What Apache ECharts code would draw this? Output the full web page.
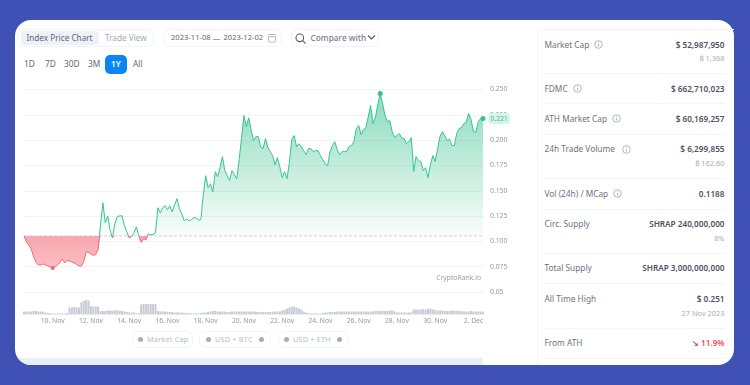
<!DOCTYPE html>
<html><head><meta charset="utf-8">
<script src="https://cdn.jsdelivr.net/npm/echarts@6/dist/echarts.min.js"></script>
<style>
html,body{margin:0;padding:0;width:750px;height:385px;overflow:hidden;background:#3f51b5;font-family:"Noto Sans",sans-serif}
#card{position:absolute;left:15px;top:19.5px;width:719px;height:345.5px;background:#fff;border-radius:16px;overflow:hidden}
#strip{position:absolute;left:0;top:338px;width:468px;height:8px;background:#e6f0fb}
#chart{position:absolute;left:0;top:0;width:750px;height:385px}
.ui{position:absolute;white-space:nowrap;line-height:1;transform:translateY(-50%)}
.box{position:absolute;border:1px solid #f3f4f7;border-radius:6px;box-sizing:border-box;background:#fff}
.lab{font-size:8.3px;color:#6d7380;left:544.5px}
.val{font-size:8.2px;font-weight:600;color:#4d5362;right:25.5px}
.sub{font-size:7.4px;color:#a9aeb8;right:25.5px}
.div{position:absolute;left:544px;width:181px;height:1px;background:#f2f3f6}
.rng{font-size:8.3px;color:#5f6675;top:64px}
.chip{font-size:7.3px;color:#b9bcc5;top:339.5px;letter-spacing:.2px}
.dot{position:absolute;width:5px;height:5px;border-radius:50%;background:#a9adb8;top:337px}
svg{position:absolute}
</style></head>
<body>
<div id="card"><div id="strip"></div></div>
<div class="box" style="left:17px;top:29px;width:137px;height:18px"></div>
<div style="position:absolute;left:20.5px;top:31px;width:78.5px;height:14px;background:#eef1f8;border-radius:3px"></div>
<div class="ui" style="left:26.5px;top:38px;font-size:8.2px;color:#5f6675">Index Price Chart</div>
<div class="ui" style="left:105px;top:38px;font-size:8.2px;color:#a6abb6">Trade View</div>
<div class="box" style="left:163px;top:29px;width:119px;height:18px"></div>
<div class="ui" style="left:171px;top:38px;font-size:7.6px;color:#5f6675">2023-11-08</div>
<div class="ui" style="left:212.5px;top:38.5px;font-size:7.6px;color:#5f6675">—</div>
<div class="ui" style="left:223.5px;top:38px;font-size:7.6px;color:#5f6675">2023-12-02</div>
<svg style="left:267px;top:33px" width="10" height="10" viewBox="0 0 10 10"><rect x="1.5" y="1.5" width="7" height="7.5" rx="1" fill="none" stroke="#b8bcc6"/><path d="M1.5 3.8H8.5" stroke="#b8bcc6"/></svg>
<div class="box" style="left:291px;top:29px;width:88px;height:18px"></div>
<svg style="left:294px;top:32px" width="13" height="13" viewBox="0 0 13 13"><circle cx="5.8" cy="5.8" r="3.8" fill="none" stroke="#555b69" stroke-width="1.1"/><path d="M8.6 8.6L11.5 11.5" stroke="#555b69" stroke-width="1.1"/></svg>
<div class="ui" style="left:310.5px;top:38px;font-size:8.3px;font-weight:500;color:#787e8b">Compare with</div>
<svg style="left:367px;top:34px" width="9" height="7" viewBox="0 0 9 7"><path d="M1 1.5L4.5 5L8 1.5" fill="none" stroke="#555b69" stroke-width="1.2"/></svg>
<div class="ui rng" style="left:24px">1D</div>
<div class="ui rng" style="left:45px">7D</div>
<div class="ui rng" style="left:64px">30D</div>
<div class="ui rng" style="left:88px">3M</div>
<div style="position:absolute;left:104.5px;top:55px;width:22.5px;height:19px;background:#0b84f5;border-radius:5px"></div>
<div class="ui rng" style="left:111px;color:#fff;font-weight:600">1Y</div>
<div class="ui rng" style="left:133px">All</div>

<div class="box" style="left:131.5px;top:330.5px;width:61px;height:17.5px"></div>
<div class="box" style="left:199px;top:330.5px;width:71.5px;height:17.5px"></div>
<div class="box" style="left:278px;top:330.5px;width:70px;height:17.5px"></div>
<div class="dot" style="left:137.5px"></div><div class="ui chip" style="left:147px">Market Cap</div>
<div class="dot" style="left:206px"></div><div class="ui chip" style="left:215px">USD + BTC</div><div class="dot" style="left:258.5px"></div>
<div class="dot" style="left:283.5px"></div><div class="ui chip" style="left:293px">USD + ETH</div><div class="dot" style="left:336.5px"></div>

<div class="box" style="left:536.5px;top:29px;width:197.5px;height:336px;border-right:none;border-bottom:none;border-radius:6px 0 0 0;background:transparent"></div>
<div id="stats"></div>
<div id="chart"></div>
<script>
const startDate = Date.UTC(2023, 10, 8, 12);
const priceValues = [
.1054,.0995,.0965,.0926,.0847,.0797,.0767,.0767,.0777,.0767,.0757,.0747,.0738,.0747,.0767,.0787,
.0827,.0787,.0812,.0807,.0797,.0787,.0772,.0757,.0757,.0797,.0896,.0891,.0876,.0861,.0871,.0916,
.1163,.1381,.1183,.1252,.1114,.1035,.1173,.1243,.1252,.1252,.1154,.1094,.1035,.1047,.1084,.1144,
.1054,.0990,.1025,.1015,.1074,.1064,.1069,.1084,.1332,.1282,.1332,.1351,.1312,.1351,.1292,.1361,
.1421,.1322,.1272,.1203,.1223,.1203,.1213,.1233,.1233,.1208,.1218,.1460,.1649,.1530,.1569,.1490,
.1688,.1639,.1728,.1837,.1698,.1649,.1602,.1698,.1658,.1616,.1807,.2025,.2243,.2134,.2220,.2104,
.1995,.2035,.2035,.1931,.1916,.2015,.1926,.1886,.1847,.1757,.1827,.1738,.1629,.1688,.1619,.1777,
.2005,.2045,.1936,.1965,.1936,.1896,.1856,.1916,.1916,.1886,.1896,.1896,.1847,.1807,.1767,.1747,
.1886,.1946,.1985,.1906,.1856,.1886,.1886,.1889,.1936,.1946,.1985,.2114,.2144,.2054,.2104,.2119,
.2233,.2342,.2163,.2223,.2351,.2460,.2361,.2243,.2183,.2193,.2084,.2025,.2045,.2064,.2022,.2015,
.1965,.1985,.2025,.1691,.1837,.1797,.1787,.1698,.1728,.1629,.1757,.1847,.1787,.1916,.2035,.2084,
.2045,.1995,.2010,.1946,.1946,.2064,.2114,.2124,.2163,.2178,.2263,.2203,.2084,.2077,.2183,.2213,.2213];
const volumeValues = [
3,3,3,3,3.5,3.5,3,3,3,2,1.5,1.5,1,1,1,1,1,1,1.5,7,7,7.5,7,7,12,13.5,14.5,14,8.5,8,8,8,
3.5,3.5,3.5,4,4,4,4,4.5,4,3.5,3,2.5,2,2,2,1,1.5,10,10.5,10.5,10.5,10.5,10.5,10.5,3.5,3,3,3,2.5,2.5,2.5,2,
2,2,2,1.5,1.5,1.5,1,1,1,1,1.5,2,2,2.5,3,3.5,3.5,3,3,3,3,2.5,2.5,3,3,3,3,3,3,3,3,3,
3,3,2.5,2.5,2.5,2.5,2.5,2.5,2.5,3,3,3,4,5,6,7,8,8,7,6,5,3,2,1.5,1,1,1,1,1,1.5,2,2,2.5,2.5,
2.5,3,3,3,3,3,3,3,3,3,3,3,3,3,3,3,3,3.5,3.5,3.5,3.5,3.5,3.5,4,4,3,2,2,2,2,2,2,
2,5,5,5,5,5.5,5,5.5,6,5,4.5,4,4,4,3.5,3.5,3.5,4,4,3.5,3.5,3.5,3,3,3,3.5,3,3,3,3,3];
const baseValue = .1054;
const lastLabel = '0.221';
const xTickLabels = {'2023-11-10 00':'10. Nov','2023-11-12 00':'12. Nov','2023-11-14 00':'14. Nov','2023-11-16 00':'16. Nov','2023-11-18 00':'18. Nov','2023-11-20 00':'20. Nov','2023-11-22 00':'22. Nov','2023-11-24 00':'24. Nov','2023-11-26 00':'26. Nov','2023-11-28 00':'28. Nov','2023-11-30 00':'30. Nov','2023-12-02 00':'2. Dec'};
const yTicks = {'0.05':'0.05'};
const statRows = [
 ['Market Cap','$ 52,987,950','₿ 1,368',44.7,598],
 ['FDMC','$ 662,710,023','',88.7,577],
 ['ATH Market Cap','$ 60,169,257','',118.7,616],
 ['24h Trade Volume','$ 6,299,855','₿ 162.60',149.3,626],
 ['Vol (24h) / MCap','0.1188','',193.7,617],
 ['Circ. Supply','SHRAP 240,000,000','8%',224,0],
 ['Total Supply','SHRAP 3,000,000,000','',268.3,0],
 ['All Time High','$ 0.251','27 Nov 2023',299,0],
 ['From ATH','↘ 11.9%','',343,0]];
const dividerYs = [73,103,134,178,209,253,283,328,358];

let statsHtml='';
statRows.forEach(r=>{
  const red = r[0]==='From ATH' ? 'color:#ee4b57;' : '';
  statsHtml+=`<div class="ui lab" style="top:${r[3]}px">${r[0]}</div><div class="ui val" style="top:${r[3]}px;${red}">${r[1]}</div>`;
  if(r[2]) statsHtml+=`<div class="ui sub" style="top:${r[3]+14.5}px">${r[2]}</div>`;
  if(r[4]) statsHtml+=`<svg style="left:${r[4]-4.5}px;top:${r[3]-4.5}px" width="9" height="9" viewBox="0 0 9 9"><circle cx="4.5" cy="4.5" r="3.8" fill="none" stroke="#9ea3ae" stroke-width=".8"/><path d="M4.5 4V6.7M4.5 2.3V3" stroke="#9ea3ae" stroke-width=".8"/></svg>`;
});
dividerYs.forEach(y=>statsHtml+=`<div class="div" style="top:${y}px"></div>`);
document.getElementById('stats').innerHTML=statsHtml;

const categories = priceValues.map((_,i)=>new Date(startDate+i*3*3600e3).toISOString().slice(0,13).replace('T',' '));
const greenValues = priceValues.map(v=>Math.max(v,baseValue));
const redValues = priceValues.map(v=>Math.min(v,baseValue));
const baseLine = priceValues.map(()=>baseValue);
const lastCat = categories[categories.length-1];
const maxIdx = priceValues.indexOf(Math.max(...priceValues));
const minIdx = priceValues.indexOf(Math.min(...priceValues));
const GREEN='#35c48f', RED='#ef6a75', TXT='#9398a3', GRID='#f1f2f5';

const chart = echarts.init(document.getElementById('chart'),null,{renderer:'canvas'});
chart.setOption({
  animation:false,
  backgroundColor:'transparent',
  textStyle:{fontFamily:'"Noto Sans",sans-serif'},
  grid:[{left:24,right:267,top:89.5,height:202.5},{left:24,right:267,top:298,height:16.5}],
  xAxis:[
    {type:'category',data:categories,gridIndex:0,boundaryGap:false,axisLine:{show:false},axisTick:{show:false},axisLabel:{show:false},splitLine:{show:false}},
    {type:'category',data:categories,gridIndex:1,boundaryGap:false,axisLine:{show:false},axisTick:{show:false},splitLine:{show:false},
     axisLabel:{color:TXT,fontSize:6.8,margin:3,hideOverlap:false,interval:(i,v)=>v in xTickLabels,formatter:v=>xTickLabels[v]||''}}
  ],
  yAxis:[
    {type:'value',gridIndex:0,position:'right',min:.05,max:.25,interval:.025,axisLine:{show:false},axisTick:{show:false},
     splitLine:{lineStyle:{color:GRID,width:1}},
     axisLabel:{color:TXT,fontSize:6.8,margin:7,formatter:v=>yTicks[String(+v.toFixed(3))]||v.toFixed(3)}},
    {type:'value',gridIndex:1,min:0,max:16.5,show:false}
  ],
  visualMap:{show:false,type:'piecewise',seriesIndex:0,dimension:1,pieces:[{min:0,max:baseValue,color:RED},{min:baseValue,max:1,color:GREEN}]},
  series:[
    {name:'Price',type:'line',data:priceValues,xAxisIndex:0,yAxisIndex:0,showSymbol:false,symbol:'none',z:5,lineStyle:{width:1},
     markPoint:{silent:true,symbol:'circle',symbolSize:5,data:[
       {coord:[categories[maxIdx],priceValues[maxIdx]],itemStyle:{color:GREEN},label:{show:false}},
       {coord:[categories[minIdx],priceValues[minIdx]],symbolSize:4,itemStyle:{color:RED},label:{show:false}},
       {coord:[lastCat,priceValues[priceValues.length-1]],itemStyle:{color:GREEN},
        label:{show:true,position:'right',distance:3,formatter:lastLabel,color:GREEN,fontSize:6.8,backgroundColor:'#d8f4e8',padding:[2,2,2,2],borderRadius:2}}
     ]}},
    {name:'Up area',type:'line',data:greenValues,xAxisIndex:0,yAxisIndex:0,symbol:'none',showSymbol:false,z:2,lineStyle:{width:0},itemStyle:{color:GREEN},
     areaStyle:{origin:baseValue,opacity:1,color:new echarts.graphic.LinearGradient(0,0,0,1,[{offset:0,color:'rgba(45,190,135,.55)'},{offset:1,color:'rgba(45,190,135,.03)'}])}},
    {name:'Down area',type:'line',data:redValues,xAxisIndex:0,yAxisIndex:0,symbol:'none',showSymbol:false,z:2,lineStyle:{width:0},itemStyle:{color:RED},
     areaStyle:{origin:baseValue,opacity:1,color:new echarts.graphic.LinearGradient(0,0,0,1,[{offset:0,color:'rgba(242,110,122,.6)'},{offset:1,color:'rgba(242,110,122,.45)'}])}},
    {name:'Base',type:'line',data:baseLine,xAxisIndex:0,yAxisIndex:0,symbol:'none',showSymbol:false,z:3,itemStyle:{color:'#d7c9cb'},lineStyle:{color:'#d7c9cb',type:[3,2],width:1}},
    {name:'Volume',type:'bar',data:volumeValues,xAxisIndex:1,yAxisIndex:1,barWidth:'85%',itemStyle:{color:'#c8ccd5'}}
  ],
  graphic:[{type:'text',right:269,top:275,style:{text:'CryptoRank.io',fill:'#9a9ea8',fontSize:6.8,fontFamily:'"Noto Sans",sans-serif'}}]
});
</script>
</body></html>
